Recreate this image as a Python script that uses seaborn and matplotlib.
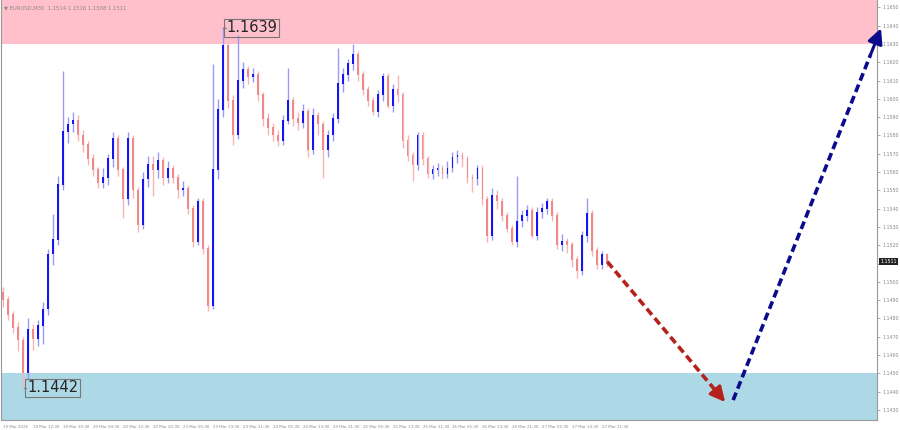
import matplotlib
matplotlib.use("Agg")
import matplotlib.pyplot as plt
import seaborn as sns
import numpy as np

opens = [1.1494, 1.1490, 1.1482, 1.1475, 1.1468, 1.1450, 1.1474, 1.1469, 1.1476, 1.1485,
         1.1515, 1.1523, 1.1553, 1.1582, 1.1586, 1.1588, 1.1580, 1.1575, 1.1567, 1.1561,
         1.1554, 1.1557, 1.1567, 1.1578, 1.1561, 1.1545, 1.1578, 1.1550, 1.1531, 1.1556,
         1.1564, 1.1561, 1.1566, 1.1557, 1.1562, 1.1557, 1.1550, 1.1551, 1.1540, 1.1522,
         1.1544, 1.1518, 1.1487, 1.1561, 1.1594, 1.1629, 1.1599, 1.1580, 1.1610, 1.1616,
         1.1612, 1.1613, 1.1602, 1.1589, 1.1584, 1.1580, 1.1577, 1.1588, 1.1599, 1.1589,
         1.1587, 1.1593, 1.1572, 1.1591, 1.1586, 1.1572, 1.1580, 1.1589, 1.1608, 1.1613,
         1.1619, 1.1624, 1.1613, 1.1605, 1.1599, 1.1593, 1.1602, 1.1612, 1.1596, 1.1605,
         1.1602, 1.1577, 1.1569, 1.1564, 1.1580, 1.1567, 1.1559, 1.1561, 1.1562, 1.1559,
         1.1562, 1.1568, 1.1569, 1.1567, 1.1557, 1.1556, 1.1562, 1.1545, 1.1525, 1.1547,
         1.1544, 1.1536, 1.1529, 1.1522, 1.1533, 1.1536, 1.1539, 1.1525, 1.1538, 1.1540,
         1.1544, 1.1536, 1.1520, 1.1522, 1.1520, 1.1512, 1.1506, 1.1525, 1.1537, 1.1517,
         1.1509, 1.1515]
closes = [1.1490, 1.1482, 1.1475, 1.1468, 1.1450, 1.1474, 1.1469, 1.1476, 1.1485, 1.1515,
          1.1523, 1.1553, 1.1582, 1.1586, 1.1588, 1.1580, 1.1575, 1.1567, 1.1561, 1.1554,
          1.1557, 1.1567, 1.1578, 1.1561, 1.1545, 1.1578, 1.1550, 1.1531, 1.1556, 1.1564,
          1.1561, 1.1566, 1.1557, 1.1562, 1.1557, 1.1550, 1.1551, 1.1540, 1.1522, 1.1544,
          1.1518, 1.1487, 1.1561, 1.1594, 1.1629, 1.1599, 1.1580, 1.1610, 1.1616, 1.1612,
          1.1613, 1.1602, 1.1589, 1.1584, 1.1580, 1.1577, 1.1588, 1.1599, 1.1589, 1.1587,
          1.1593, 1.1572, 1.1591, 1.1586, 1.1572, 1.1580, 1.1589, 1.1608, 1.1613, 1.1619,
          1.1624, 1.1613, 1.1605, 1.1599, 1.1593, 1.1602, 1.1612, 1.1596, 1.1605, 1.1602,
          1.1577, 1.1569, 1.1564, 1.1580, 1.1567, 1.1559, 1.1561, 1.1562, 1.1559, 1.1562,
          1.1568, 1.1569, 1.1567, 1.1557, 1.1556, 1.1562, 1.1545, 1.1525, 1.1547, 1.1544,
          1.1536, 1.1529, 1.1522, 1.1533, 1.1536, 1.1539, 1.1525, 1.1538, 1.1540, 1.1544,
          1.1536, 1.1520, 1.1522, 1.1520, 1.1512, 1.1506, 1.1525, 1.1537, 1.1517, 1.1509,
          1.1515, 1.1511]
highs = [1.1497, 1.1492, 1.1484, 1.1478, 1.1470, 1.1480, 1.1477, 1.1479, 1.1489, 1.1518,
         1.1537, 1.1558, 1.1615, 1.1590, 1.1593, 1.1591, 1.1583, 1.1577, 1.1570, 1.1563,
         1.1562, 1.1570, 1.1582, 1.1580, 1.1563, 1.1582, 1.1580, 1.1552, 1.1560, 1.1569,
         1.1569, 1.1571, 1.1568, 1.1566, 1.1564, 1.1559, 1.1555, 1.1553, 1.1542, 1.1546,
         1.1546, 1.1520, 1.1619, 1.1600, 1.1639, 1.1631, 1.1602, 1.1635, 1.1620, 1.1618,
         1.1617, 1.1615, 1.1604, 1.1592, 1.1587, 1.1583, 1.1591, 1.1617, 1.1601, 1.1593,
         1.1597, 1.1595, 1.1595, 1.1593, 1.1588, 1.1583, 1.1592, 1.1628, 1.1617, 1.1622,
         1.1630, 1.1626, 1.1615, 1.1607, 1.1601, 1.1605, 1.1614, 1.1614, 1.1608, 1.1613,
         1.1604, 1.1580, 1.1571, 1.1582, 1.1582, 1.1569, 1.1564, 1.1565, 1.1564, 1.1566,
         1.1571, 1.1572, 1.1571, 1.1569, 1.1559, 1.1564, 1.1564, 1.1547, 1.1551, 1.1550,
         1.1546, 1.1538, 1.1531, 1.1558, 1.1539, 1.1542, 1.1541, 1.1541, 1.1543, 1.1546,
         1.1546, 1.1538, 1.1526, 1.1524, 1.1522, 1.1514, 1.1528, 1.1546, 1.1539, 1.1519,
         1.1517, 1.1516]
lows = [1.1486, 1.1479, 1.1472, 1.1462, 1.1442, 1.1447, 1.1463, 1.1465, 1.1466, 1.1482,
        1.1509, 1.1520, 1.1550, 1.1576, 1.1582, 1.1577, 1.1571, 1.1564, 1.1558, 1.1551,
        1.1551, 1.1553, 1.1563, 1.1558, 1.1535, 1.1542, 1.1546, 1.1527, 1.1529, 1.1552,
        1.1547, 1.1557, 1.1553, 1.1554, 1.1554, 1.1546, 1.1547, 1.1537, 1.1519, 1.1520,
        1.1515, 1.1484, 1.1485, 1.1556, 1.1590, 1.1595, 1.1575, 1.1578, 1.1606, 1.1608,
        1.1609, 1.1599, 1.1585, 1.1580, 1.1577, 1.1574, 1.1575, 1.1586, 1.1585, 1.1583,
        1.1584, 1.1568, 1.1570, 1.1580, 1.1557, 1.1568, 1.1577, 1.1587, 1.1604, 1.1610,
        1.1616, 1.1610, 1.1602, 1.1596, 1.1591, 1.1590, 1.1599, 1.1595, 1.1593, 1.1598,
        1.1573, 1.1566, 1.1555, 1.1561, 1.1564, 1.1557, 1.1556, 1.1558, 1.1556, 1.1557,
        1.1560, 1.1565, 1.1563, 1.1554, 1.1549, 1.1553, 1.1542, 1.1522, 1.1523, 1.1540,
        1.1533, 1.1527, 1.1520, 1.1519, 1.1530, 1.1533, 1.1524, 1.1523, 1.1535, 1.1537,
        1.1533, 1.1518, 1.1517, 1.1516, 1.1508, 1.1502, 1.1504, 1.1522, 1.1514, 1.1507,
        1.1507, 1.1508]

time_labels = ["19 Mar 2026", "19 Mar 12:30", "19 Mar 20:30", "20 Mar 04:30", "20 Mar 12:30",
               "20 Mar 20:30", "23 Mar 05:30", "23 Mar 13:30", "23 Mar 21:30", "24 Mar 05:30",
               "24 Mar 13:30", "24 Mar 21:30", "25 Mar 05:30", "25 Mar 13:30", "25 Mar 21:30",
               "26 Mar 05:30", "26 Mar 13:30", "26 Mar 21:30", "27 Mar 05:30", "27 Mar 13:30",
               "27 Mar 21:30"]
price_ticks = [1.1650, 1.1640, 1.1630, 1.1620, 1.1610, 1.1600, 1.1590, 1.1580, 1.1570, 1.1560,
               1.1550, 1.1540, 1.1530, 1.1520, 1.1510, 1.1500, 1.1490, 1.1480, 1.1470, 1.1460,
               1.1450, 1.1440, 1.1430]

resistance_zone = [1.1630, 1.1660]
support_zone = [1.1420, 1.1450]
swing_high = 1.1639
swing_low = 1.1442
last_price = 1.1511

# forecast arrows (bar position, price)
down_leg_x = [121, 144.6]
down_leg_y = [1.1511, 1.14343]
up_leg_x = [146.2, 175.8]
up_leg_y = [1.14354, 1.16385]

sns.set_style("white")
plt.rcParams["font.family"] = ["DejaVu Sans"]

fig = plt.figure(figsize=(9, 4.3), dpi=100)
ax = fig.add_axes([1 / 900, 10 / 430, 876 / 900, 420 / 430])

ax.axhspan(resistance_zone[0], resistance_zone[1], color="#FFC0CB", zorder=0, lw=0)
ax.axhspan(support_zone[0], support_zone[1], color="#ADD8E6", zorder=0, lw=0)

x = np.arange(len(closes))
o = np.array(opens)
c = np.array(closes)
up = c >= o
col = np.where(up, "#1515F0", "#F08A8A")
wick = np.where(up, "#9A9AF5", "#F5B5B5")

ax.vlines(x, lows, highs, colors=wick, lw=1.0, zorder=2)
ax.bar(x, np.abs(c - o) + 0.00004, bottom=np.minimum(o, c), width=0.38,
       color=col, lw=0, zorder=3)

# forecast arrows
for xs, ys, colr in [(down_leg_x, down_leg_y, "#B5211B"), (up_leg_x, up_leg_y, "#0A0A8C")]:
    xs_ = np.array(xs)
    ys_ = np.array(ys)
    tail = [xs_[0] + 0.93 * (xs_[1] - xs_[0]), ys_[0] + 0.93 * (ys_[1] - ys_[0])]
    ax.plot([xs_[0], tail[0]], [ys_[0], tail[1]], ls=(0, (2.2, 1.2)), lw=2.6,
            color=colr, zorder=4, clip_on=False)
    ax.annotate("", xy=(xs_[1], ys_[1]), xytext=tail,
                arrowprops=dict(arrowstyle="-|>,head_length=0.9,head_width=0.45",
                                color=colr, lw=2.2, shrinkA=0, shrinkB=0),
                annotation_clip=False, zorder=5)

# swing labels
ax.text(44.7, swing_high - 0.00002, "1.1639", fontsize=10.5, va="center", ha="left",
        bbox=dict(boxstyle="square,pad=0.12", fc="none", ec="#777777", lw=0.8), zorder=6)
ax.plot([44.0, 44.6], [swing_high - 0.00002] * 2, color="#777777", lw=0.8)
ax.text(4.8, swing_low, "1.1442", fontsize=10.5, va="center", ha="left",
        bbox=dict(boxstyle="square,pad=0.12", fc="none", ec="#777777", lw=0.8), zorder=6)
ax.plot([4.2, 4.7], [swing_low] * 2, color="#777777", lw=0.8)

ax.set_xlim(-0.4, 175)
ax.set_ylim(1.14245, 1.1654)

ax.yaxis.tick_right()
ax.set_yticks(price_ticks)
# the 1.1510 level is covered by the current price tag
ax.set_yticklabels(["" if abs(p - 1.1510) < 1e-6 else f"{p:.4f}" for p in price_ticks])
ax.set_xticks(np.arange(0, 6 * len(time_labels), 6))
ax.set_xticklabels(time_labels, ha="left")
ax.tick_params(axis="x", labelsize=2.9, colors="#888888", length=2, width=0.5, pad=1.5)
ax.tick_params(axis="y", labelsize=3.4, colors="#888888", length=2, width=0.5, pad=2)

ax.spines["top"].set_visible(False)
for side in ["left", "right", "bottom"]:
    ax.spines[side].set_color("#999999")
    ax.spines[side].set_linewidth(0.8)

# current price tag on the scale
ax.text(1.0035, last_price, "1.1511", transform=ax.get_yaxis_transform(), fontsize=3.4,
        color="white", va="center", ha="left",
        bbox=dict(boxstyle="square,pad=0.25", fc="#222222", ec="none"))

fig.text(4 / 900, 1 - 8 / 430, "\u25bc EURUSD,M30  1.1514 1.1516 1.1508 1.1511",
         fontsize=3.8, color="#888888", va="center")

fig.savefig("out.png", dpi=100)
